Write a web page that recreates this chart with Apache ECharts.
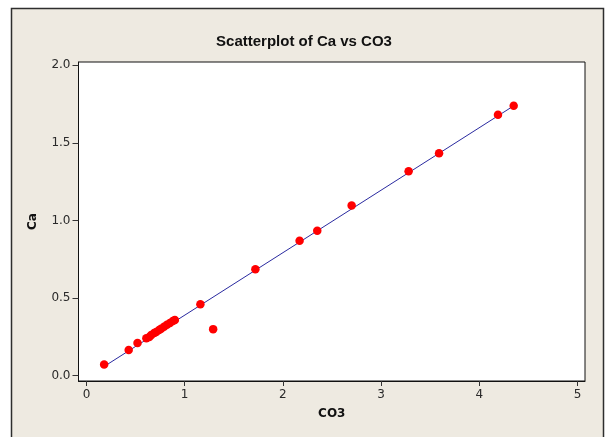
<!DOCTYPE html>
<html>
<head>
<meta charset="utf-8">
<script src="https://cdn.jsdelivr.net/npm/echarts@6/dist/echarts.min.js"></script>
<style>
  html, body { margin: 0; padding: 0; background: #ffffff; }
  #chart { width: 608px; height: 437px; }
</style>
</head>
<body>
<div id="chart"></div>
<script>
// Observations: carbonate (CO3) against calcium (Ca)
const co3 = [0.18, 0.43, 0.52, 0.61, 0.64, 0.66, 0.69, 0.71, 0.74, 0.76, 0.79, 0.82, 0.85, 0.88, 0.90,
             1.16, 1.29, 1.72, 2.17, 2.35, 2.70, 3.28, 3.59, 4.19, 4.35];
const ca  = [0.073, 0.165, 0.21, 0.241, 0.25, 0.262, 0.275, 0.282, 0.295, 0.302, 0.315, 0.328, 0.34, 0.352, 0.359,
             0.46, 0.30, 0.685, 0.869, 0.934, 1.096, 1.317, 1.433, 1.681, 1.739];

// Tick positions on each axis
const xTicks = [0, 1, 2, 3, 4, 5];
const yTicks = [0, 0.5, 1.0, 1.5, 2.0];

const points = co3.map((x, i) => [x, ca[i]]);

// Least-squares fitted line across the range of CO3
function fitLine(xs, ys) {
  const n = xs.length;
  const mx = xs.reduce((a, b) => a + b, 0) / n;
  const my = ys.reduce((a, b) => a + b, 0) / n;
  let sxy = 0, sxx = 0;
  for (let i = 0; i < n; i++) {
    sxy += (xs[i] - mx) * (ys[i] - my);
    sxx += (xs[i] - mx) * (xs[i] - mx);
  }
  const b = sxy / sxx;
  const a = my - b * mx;
  const lo = Math.min(...xs), hi = Math.max(...xs);
  return [[lo, a + b * lo], [hi, a + b * hi]];
}
const fitted = fitLine(co3, ca);

const chart = echarts.init(document.getElementById('chart'), null, { renderer: 'canvas' });

const tickFont = { fontFamily: 'DejaVu Sans', fontSize: 12, color: '#2a2a2a' };

chart.setOption({
  backgroundColor: '#ffffff',
  animation: false,
  graphic: [{
    type: 'rect',
    z: -100,
    shape: { x: 11.5, y: 8.5, width: 592, height: 440 },
    style: { fill: '#eeeae1', stroke: '#2e2e2e', lineWidth: 1.5 }
  }],
  title: {
    text: 'Scatterplot of Ca vs CO3',
    left: 'center',
    top: 29,
    textStyle: { fontFamily: 'Liberation Sans', fontWeight: 'bold', fontSize: 15, color: '#111111' }
  },
  grid: {
    left: 78.5, top: 62, right: 23, bottom: 56,
    show: true, backgroundColor: '#ffffff', borderColor: '#111111', borderWidth: 1
  },
  xAxis: {
    type: 'value',
    min: -0.081, max: 5.076,
    name: 'CO3',
    nameLocation: 'middle',
    nameGap: 27,
    nameTextStyle: { fontFamily: 'DejaVu Sans', fontWeight: 'bold', fontSize: 12, color: '#111111' },
    splitLine: { show: false },
    axisLine: { show: true, onZero: false, lineStyle: { color: '#111111' } },
    axisTick: { show: true, length: 5, customValues: xTicks, lineStyle: { color: '#333333' } },
    axisLabel: Object.assign({ customValues: xTicks, margin: 8, formatter: v => String(v) }, tickFont)
  },
  yAxis: {
    type: 'value',
    min: -0.034, max: 2.02,
    name: 'Ca',
    nameLocation: 'middle',
    nameGap: 40,
    nameTextStyle: { fontFamily: 'DejaVu Sans', fontWeight: 'bold', fontSize: 12, color: '#111111' },
    splitLine: { show: false },
    axisLine: { show: true, onZero: false, lineStyle: { color: '#111111' } },
    axisTick: { show: true, length: 6, customValues: yTicks, lineStyle: { color: '#333333' } },
    axisLabel: Object.assign({ customValues: yTicks, margin: 8, formatter: v => v.toFixed(1) }, tickFont)
  },
  series: [
    {
      type: 'line',
      data: fitted,
      symbol: 'none',
      lineStyle: { color: '#2a2aa0', width: 1 },
      z: 2
    },
    {
      type: 'scatter',
      data: points,
      symbol: 'circle',
      symbolSize: 8.5,
      itemStyle: { color: '#ff0000', opacity: 1 },
      z: 3
    }
  ]
});
</script>
</body>
</html>
